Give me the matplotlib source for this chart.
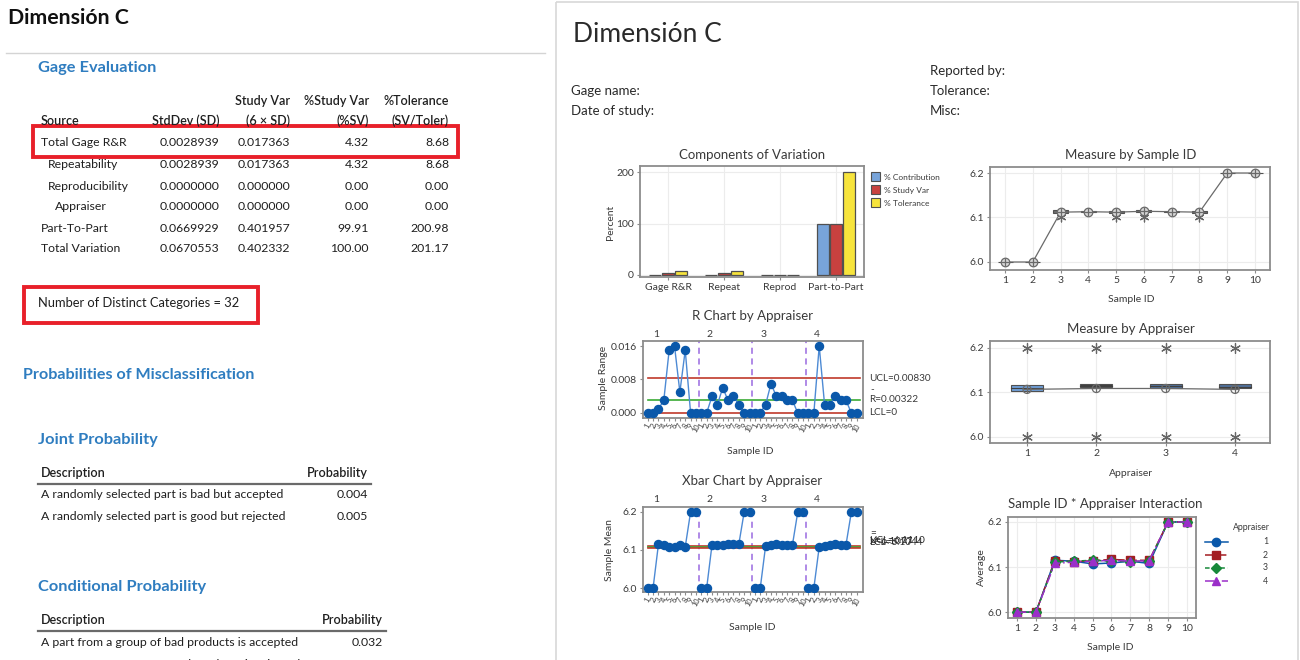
import matplotlib
matplotlib.use("Agg")
import matplotlib.pyplot as plt
import matplotlib.transforms as mtransforms
from matplotlib.patches import Rectangle
from matplotlib.lines import Line2D

plt.rcParams['font.family'] = ['Lato', 'DejaVu Sans']

W, H = 1300, 660

# ---------------- data ----------------
report_title = "Dimensión C"

gage_sources = ["Total Gage R&R", "Repeatability", "Reproducibility", "Appraiser",
                "Part-To-Part", "Total Variation"]
gage_indent = [0, 1, 1, 2, 0, 0]
gage_sd = [0.0028939, 0.0028939, 0.0, 0.0, 0.0669929, 0.0670553]
gage_study_var = [0.017363, 0.017363, 0.0, 0.0, 0.401957, 0.402332]
gage_pct_sv = [4.32, 4.32, 0.00, 0.00, 99.91, 100.00]
gage_pct_tol = [8.68, 8.68, 0.00, 0.00, 200.98, 201.17]
distinct_categories = 32

joint_desc = ["A randomly selected part is bad but accepted",
              "A randomly selected part is good but rejected"]
joint_prob = [0.004, 0.005]
cond_desc = ["A part from a group of bad products is accepted",
             "A part from a group of good products is rejected"]
cond_prob = [0.032, 0.005]

components = ["Gage R&R", "Repeat", "Reprod", "Part-to-Part"]
pct_contribution = [0.19, 0.19, 0.00, 99.81]
pct_study_var = [4.32, 4.32, 0.00, 99.91]
pct_tolerance = [8.68, 8.68, 0.00, 200.98]

sample_ids = [1, 2, 3, 4, 5, 6, 7, 8, 9, 10]
appraisers = [1, 2, 3, 4]

range_by_appraiser = [
    [0.000, 0.000, 0.001, 0.003, 0.015, 0.016, 0.005, 0.015, 0.000, 0.000],
    [0.000, 0.000, 0.004, 0.002, 0.006, 0.003, 0.004, 0.002, 0.000, 0.000],
    [0.000, 0.000, 0.002, 0.007, 0.004, 0.004, 0.003, 0.003, 0.000, 0.000],
    [0.000, 0.000, 0.016, 0.002, 0.002, 0.004, 0.003, 0.003, 0.000, 0.000],
]
mean_by_appraiser = [
    [6.000, 6.000, 6.115, 6.113, 6.107, 6.109, 6.113, 6.108, 6.200, 6.200],
    [6.000, 6.000, 6.114, 6.112, 6.114, 6.117, 6.115, 6.115, 6.200, 6.200],
    [6.000, 6.000, 6.111, 6.113, 6.115, 6.113, 6.112, 6.113, 6.200, 6.200],
    [6.000, 6.000, 6.108, 6.111, 6.113, 6.115, 6.113, 6.114, 6.200, 6.200],
]
r_ucl, r_bar, r_lcl = 0.00830, 0.00322, 0.0
x_ucl, x_bar, x_lcl = 6.1110, 6.1077, 6.1044

part_mean = [6.000, 6.000, 6.112, 6.113, 6.112, 6.114, 6.113, 6.112, 6.200, 6.200]
part_q1 = [6.000, 6.000, 6.111, 6.112, 6.111, 6.113, 6.112, 6.111, 6.200, 6.200]
part_q3 = [6.000, 6.000, 6.116, 6.115, 6.115, 6.116, 6.115, 6.115, 6.200, 6.200]
part_outlier_ids = [3, 5, 6, 8]
part_outlier_vals = [6.100, 6.100, 6.100, 6.100]

app_mean = [6.107, 6.109, 6.109, 6.107]
app_q1 = [6.103, 6.112, 6.110, 6.110]
app_median = [6.110, 6.115, 6.114, 6.113]
app_q3 = [6.117, 6.119, 6.119, 6.118]
app_low_outlier = [6.000, 6.000, 6.000, 6.000]
app_high_outlier = [6.200, 6.200, 6.200, 6.200]

# ---------------- figure ----------------
fig = plt.figure(figsize=(W / 100, H / 100), dpi=100)
fig.patch.set_facecolor('white')

ov = fig.add_axes([0, 0, 1, 1])
ov.set_xlim(0, W)
ov.set_ylim(H, 0)
ov.axis('off')
ov.patch.set_alpha(0)

BLUE_HEAD = '#2f7dc0'
TXT = '#1f1f1f'
PLOT_TXT = '#3a3a3a'
FRAME = '#8c8c8c'
GRID = '#ececec'


def t(x, y, s, **kw):
    kw.setdefault('va', 'center')
    kw.setdefault('ha', 'left')
    kw.setdefault('color', TXT)
    return ov.text(x, y, s, **kw)


def px_axes(x0, y0, x1, y1):
    return fig.add_axes([x0 / W, 1 - y1 / H, (x1 - x0) / W, (y1 - y0) / H])


def style(ax, labelsize=7.5):
    ax.set_facecolor('white')
    for s in ax.spines.values():
        s.set_color(FRAME)
        s.set_linewidth(1.3)
    ax.grid(True, color=GRID, lw=0.8)
    ax.set_axisbelow(True)
    ax.tick_params(length=2.5, width=0.8, color=FRAME, labelsize=labelsize,
                   labelcolor=PLOT_TXT, pad=2)


# ---------------- left: session output ----------------
t(8, 18, report_title, fontsize=15.3, fontweight='bold', color='#111111')
ov.plot([6, 545], [53, 53], color='#d4d4d4', lw=1)
t(38, 68, "Gage Evaluation", fontsize=11.8, fontweight='bold', color=BLUE_HEAD)

col_right = [219, 290, 369, 449]
t(col_right[1], 101, "Study Var", ha='right', fontsize=9, fontweight='semibold')
t(col_right[2], 101, "%Study Var", ha='right', fontsize=9, fontweight='semibold')
t(col_right[3], 101, "%Tolerance", ha='right', fontsize=9, fontweight='semibold')
t(41, 121, "Source", fontsize=9, fontweight='semibold')
t(col_right[0], 121, "StdDev (SD)", ha='right', fontsize=9, fontweight='semibold')
t(col_right[1], 121, "(6 × SD)", ha='right', fontsize=9, fontweight='semibold')
t(col_right[2], 121, "(%SV)", ha='right', fontsize=9, fontweight='semibold')
t(col_right[3], 121, "(SV/Toler)", ha='right', fontsize=9, fontweight='semibold')

row_y = [143, 164, 186, 207, 228, 249]
for i, src in enumerate(gage_sources):
    y = row_y[i]
    t(41 + 7 * gage_indent[i], y, src, fontsize=8.8)
    t(col_right[0], y, f"{gage_sd[i]:.7f}", ha='right', fontsize=8.8)
    t(col_right[1], y, f"{gage_study_var[i]:.6f}", ha='right', fontsize=8.8)
    t(col_right[2], y, f"{gage_pct_sv[i]:.2f}", ha='right', fontsize=8.8)
    t(col_right[3], y, f"{gage_pct_tol[i]:.2f}", ha='right', fontsize=8.8)

ov.add_patch(Rectangle((33, 126), 425, 31, fill=False, ec='#e8202a', lw=2.8))

t(38, 303, f"Number of Distinct Categories = {distinct_categories}", fontsize=9.3)
ov.add_patch(Rectangle((24, 287), 234, 36, fill=False, ec='#e8202a', lw=2.8))

t(23, 375, "Probabilities of Misclassification", fontsize=11.6, fontweight='bold', color=BLUE_HEAD)

t(38, 440, "Joint Probability", fontsize=11.8, fontweight='bold', color=BLUE_HEAD)
t(41, 473, "Description", fontsize=9, fontweight='semibold')
t(368, 473, "Probability", ha='right', fontsize=9, fontweight='semibold')
ov.plot([38, 371], [484, 484], color='#6a6a6a', lw=1.6)
for i, (d, p) in enumerate(zip(joint_desc, joint_prob)):
    t(41, 495 + 22 * i, d, fontsize=8.8)
    t(368, 495 + 22 * i, f"{p:.3f}", ha='right', fontsize=8.8)

t(38, 587, "Conditional Probability", fontsize=11.8, fontweight='bold', color=BLUE_HEAD)
t(41, 620, "Description", fontsize=9, fontweight='semibold')
t(383, 620, "Probability", ha='right', fontsize=9, fontweight='semibold')
ov.plot([38, 386], [631, 631], color='#6a6a6a', lw=1.6)
for i, (d, p) in enumerate(zip(cond_desc, cond_prob)):
    t(41, 643 + 22 * i, d, fontsize=8.8)
    t(383, 643 + 22 * i, f"{p:.3f}", ha='right', fontsize=8.8)

# ---------------- right: six-pack report ----------------
ov.add_patch(Rectangle((556, 2), 742, 670, fill=False, ec='#d8d8d8', lw=1.2))
t(573, 35, report_title, fontsize=19, color='#2a2a2a')
t(571, 91, "Gage name:", fontsize=9.5, color='#2a2a2a')
t(571, 111, "Date of study:", fontsize=9.5, color='#2a2a2a')
t(930, 71, "Reported by:", fontsize=9.5, color='#2a2a2a')
t(930, 91, "Tolerance:", fontsize=9.5, color='#2a2a2a')
t(930, 111, "Misc:", fontsize=9.5, color='#2a2a2a')

# --- Components of Variation ---
ax = px_axes(640, 166, 864, 277)
style(ax)
xc = list(range(len(components)))
bw = 0.22
c_blue, c_red, c_yel = '#78a4da', '#c8413f', '#f7e43c'
ax.bar([x - 0.23 for x in xc], pct_contribution, bw, color=c_blue, ec='#505050', lw=0.9)
ax.bar(xc, pct_study_var, bw, color=c_red, ec='#505050', lw=0.9)
ax.bar([x + 0.23 for x in xc], pct_tolerance, bw, color=c_yel, ec='#505050', lw=0.9)
ax.set_xlim(-0.5, 3.5)
ax.set_ylim(-3.9, 211.7)
ax.set_yticks([0, 100, 200])
ax.set_xticks(xc)
ax.set_xticklabels(components)
t(752, 155, "Components of Variation", ha='center', fontsize=9.5, color=PLOT_TXT)
t(611, 222, "Percent", ha='center', rotation=90, fontsize=7.5, color=PLOT_TXT)
for k, (lab, col) in enumerate([("% Contribution", c_blue), ("% Study Var", c_red),
                                ("% Tolerance", c_yel)]):
    ov.add_patch(Rectangle((871, 172 + 13 * k), 9, 9, fc=col, ec='#505050', lw=0.8))
    t(884, 177 + 13 * k, lab, fontsize=6, color=PLOT_TXT)

# --- Measure by Sample ID ---
ax = px_axes(990, 167, 1270, 270)
style(ax)
for sid, lo, hi in zip(sample_ids, part_q1, part_q3):
    ax.add_patch(Rectangle((sid - 0.27, lo), 0.54, max(hi - lo, 0.0008),
                           fc='#6d6d6d', ec='#505050', lw=0.8, zorder=2))
ax.plot(sample_ids, part_mean, color='#6a6a6a', lw=0.9, zorder=3)
ax.scatter(part_outlier_ids, part_outlier_vals, marker=(6, 2, 0), s=40,
           color='#666666', lw=0.9, zorder=4)
ax.scatter(sample_ids, part_mean, marker='o', s=38, facecolor='#d8d8d8',
           edgecolor='#6a6a6a', lw=0.9, zorder=5)
ax.scatter(sample_ids, part_mean, marker='+', s=38, color='#6a6a6a', lw=0.9, zorder=6)
ax.set_xlim(0.46, 10.54)
ax.set_ylim(5.982, 6.2135)
ax.set_xticks(sample_ids)
ax.set_yticks([6.0, 6.1, 6.2])
t(1131, 155, "Measure by Sample ID", ha='center', fontsize=9.5, color=PLOT_TXT)
t(1131, 299, "Sample ID", ha='center', fontsize=7.5, color=PLOT_TXT)

# --- R chart and Xbar chart by appraiser ---
n_s = len(sample_ids)
idx = list(range(n_s * len(appraisers)))
tick_labels = [str(s) for _ in appraisers for s in sample_ids]
LINE_BLUE = '#4d8ad4'
MARK_BLUE = '#0a58aa'
CL_RED = '#c0392b'
CL_GREEN = '#3aaa35'
DIV = '#9a6ae0'


def control_panel(ax, values_by_app, ucl, cl, lcl):
    style(ax, labelsize=7.5)
    ax.grid(False)
    for level, col in [(ucl, CL_RED), (cl, CL_GREEN), (lcl, CL_RED)]:
        ax.plot([0, idx[-1] + 0.6], [level, level], color=col, lw=1.2, zorder=2)
    for k, vals in enumerate(values_by_app):
        xs = idx[k * n_s:(k + 1) * n_s]
        ax.plot(xs, vals, color=LINE_BLUE, lw=1.0, zorder=3)
        ax.plot(xs, vals, 'o', color=MARK_BLUE, ms=5.8, zorder=4)
    for k in range(1, len(appraisers)):
        ax.axvline(k * n_s - 0.5, color=DIV, ls=(0, (4, 3)), lw=1.1, zorder=1)
    tr = mtransforms.blended_transform_factory(ax.transData, ax.transAxes)
    for k, a in enumerate(appraisers):
        ax.text(k * n_s + 1.6, 1.03, str(a), transform=tr, ha='center', va='bottom',
                fontsize=7.5, color=PLOT_TXT)
    ax.set_xlim(-0.88, 40.17)
    ax.set_xticks(idx)
    ax.set_xticklabels(tick_labels, rotation=60, fontsize=5.3, ha='center')
    ax.tick_params(axis='x', length=2, pad=1)


ax_r = px_axes(643, 341, 863, 418)
control_panel(ax_r, range_by_appraiser, r_ucl, r_bar, r_lcl)
ax_r.set_ylim(-0.0012, 0.0172)
ax_r.set_yticks([0.0, 0.008, 0.016])
ax_r.set_yticklabels(["0.000", "0.008", "0.016"])
tr_r = mtransforms.blended_transform_factory(ax_r.transAxes, ax_r.transData)
ax_r.text(1.03, r_ucl, f"UCL={r_ucl:.5f}", transform=tr_r, va='center', fontsize=7.2, color=PLOT_TXT)
ax_r.text(1.03, r_bar, f"R={r_bar:.5f}", transform=tr_r, va='center', fontsize=7.2, color=PLOT_TXT)
ax_r.text(1.035, r_bar + 0.0024, "-", transform=tr_r, va='center', fontsize=7.2, color=PLOT_TXT)
ax_r.text(1.03, r_lcl, f"LCL={r_lcl:g}", transform=tr_r, va='center', fontsize=7.2, color=PLOT_TXT)
t(752, 316, "R Chart by Appraiser", ha='center', fontsize=9.5, color=PLOT_TXT)
t(604, 378, "Sample Range", ha='center', rotation=90, fontsize=7.5, color=PLOT_TXT)
t(750, 451, "Sample ID", ha='center', fontsize=7.5, color=PLOT_TXT)

ax_x = px_axes(643, 507, 863, 592)
control_panel(ax_x, mean_by_appraiser, x_ucl, x_bar, x_lcl)
ax_x.set_ylim(5.9895, 6.213)
ax_x.set_yticks([6.0, 6.1, 6.2])
tr_x = mtransforms.blended_transform_factory(ax_x.transAxes, ax_x.transData)
for lab, val in [("UCL=", x_ucl), ("X=", x_bar), ("LCL=", x_lcl)]:
    ax_x.text(1.03, val + 0.015, f"{lab}{val:.4f}", transform=tr_x, va='center',
              fontsize=7.2, color='#2a2a2a')
ax_x.text(1.035, x_bar + 0.035, "=", transform=tr_x, va='center', fontsize=7.2, color=PLOT_TXT)
t(752, 481, "Xbar Chart by Appraiser", ha='center', fontsize=9.5, color=PLOT_TXT)
t(610, 550, "Sample Mean", ha='center', rotation=90, fontsize=7.5, color=PLOT_TXT)
t(752, 627, "Sample ID", ha='center', fontsize=7.5, color=PLOT_TXT)

# --- Measure by Appraiser ---
ax = px_axes(990, 341, 1270, 443)
style(ax)
box_cols = ['#6f9fd8', '#404040', '#4f6f99', '#4f6f99']
for a, q1, med, q3, col in zip(appraisers, app_q1, app_median, app_q3, box_cols):
    ax.add_patch(Rectangle((a - 0.23, q1), 0.46, q3 - q1, fc=col, ec='#505050',
                           lw=0.8, zorder=2))
    ax.plot([a - 0.23, a + 0.23], [med, med], color='#404040', lw=0.8, zorder=3)
ax.plot(appraisers, app_mean, color='#6a6a6a', lw=0.9, zorder=3)
ax.scatter(appraisers, app_low_outlier, marker=(6, 2, 0), s=50, color='#666666', lw=0.9, zorder=4)
ax.scatter(appraisers, app_high_outlier, marker=(6, 2, 0), s=50, color='#666666', lw=0.9, zorder=4)
ax.scatter(appraisers, app_mean, marker='o', s=34, facecolor='none', edgecolor='#6a6a6a',
           lw=0.9, zorder=5)
ax.scatter(appraisers, app_mean, marker='+', s=34, color='#6a6a6a', lw=0.9, zorder=6)
ax.set_xlim(0.466, 4.505)
ax.set_ylim(5.9865, 6.2157)
ax.set_xticks(appraisers)
ax.set_yticks([6.0, 6.1, 6.2])
t(1131, 329, "Measure by Appraiser", ha='center', fontsize=9.5, color=PLOT_TXT)
t(1131, 474, "Appraiser", ha='center', fontsize=7.5, color=PLOT_TXT)

# --- Sample ID * Appraiser Interaction ---
ax = px_axes(1008, 517, 1196, 618)
style(ax)
inter_styles = [
    dict(color='#0a58aa', marker='o', ls='-', ms=6),
    dict(color='#a31d22', marker='s', ls=(0, (6, 2)), ms=5.5),
    dict(color='#17893a', marker='D', ls=(0, (3, 2)), ms=4.8),
    dict(color='#9b2fc9', marker='^', ls=(0, (6, 2, 1, 2)), ms=6),
]
for vals, st in zip(mean_by_appraiser, inter_styles):
    ax.plot(sample_ids, vals, lw=1.1, **st)
ax.set_xlim(0.52, 10.48)
ax.set_ylim(5.987, 6.211)
ax.set_xticks(sample_ids)
ax.set_yticks([6.0, 6.1, 6.2])
t(1105, 504, "Sample ID * Appraiser Interaction", ha='center', fontsize=9.5, color=PLOT_TXT)
t(981, 567, "Average", ha='center', rotation=90, fontsize=7.5, color=PLOT_TXT)
t(1110, 647, "Sample ID", ha='center', fontsize=7.5, color=PLOT_TXT)

# legend for the interaction plot
t(1270, 528, "Appraiser", ha='right', fontsize=6.3, color=PLOT_TXT)
for k, (a, st) in enumerate(zip(appraisers, inter_styles)):
    yy = [542, 555, 568, 581][k]
    ov.add_line(Line2D([1205, 1228], [yy, yy], lw=1.1, color=st['color'], ls=st['ls']))
    ov.add_line(Line2D([1216], [yy], ls='none', color=st['color'],
                       marker=st['marker'], ms=st['ms']))
    t(1268, yy, str(a), ha='right', fontsize=6.3, color=PLOT_TXT)

fig.savefig("out.png", dpi=100, facecolor='white')
